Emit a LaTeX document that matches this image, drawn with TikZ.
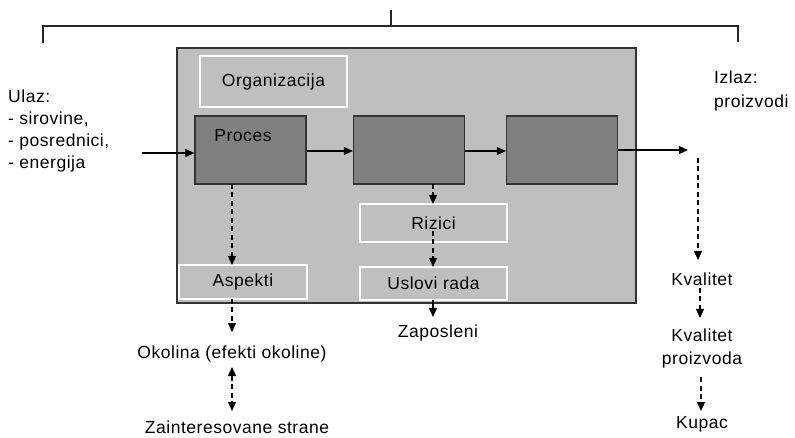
\documentclass[tikz,border=0pt]{standalone}
\usepackage{fontspec}
\setmainfont{Liberation Sans}[LetterSpace=3]
\usetikzlibrary{arrows.meta}
\definecolor{panel}{gray}{0.75}
\definecolor{procfill}{gray}{0.5}
\definecolor{edge}{gray}{0.2}
\tikzset{
  lbl/.style={font=\fontsize{17.5}{22}\selectfont, inner sep=1pt},
  procbox/.style={draw=edge, line width=1.2pt, fill=procfill, minimum width=111pt, minimum height=68pt, inner sep=0pt},
  subbox/.style={draw=white, line width=1.2pt, fill=panel, inner sep=0pt, lbl},
  arr/.style={line width=1.1pt, -{Triangle[length=9pt,width=8pt]}},
  darr/.style={arr, dash pattern=on 5pt off 3.5pt},
  bracket/.style={line width=1.6pt, draw=black!85},
}
\begin{document}
\begin{tikzpicture}[x=1pt,y=-1pt]
\useasboundingbox (0,0) rectangle (795,438);
% bracket
\coordinate (bl) at (43,43);
\coordinate (bltop) at (43,26);
\coordinate (brtop) at (738,26);
\coordinate (br) at (738,42);
\coordinate (stemtop) at (391,10);
\coordinate (stembot) at (391,26);
\draw[bracket] (bl) -- (bltop) -- (brtop) -- (br);
\draw[bracket] (stemtop) -- (stembot);
% panel
\node[draw=edge, line width=1.5pt, fill=panel, minimum width=459pt, minimum height=255pt, inner sep=0pt] (panel) at (406.5,175.5) {};
\node[subbox, minimum width=147pt, minimum height=51pt] (org) at (273.5,81.5) {Organizacija};
\node[procbox] (p1) at (250.5,150) {};
\node[procbox] (p2) at (409,150) {};
\node[procbox] (p3) at (562,150) {};
\node[lbl] (proc) at (243,136) {Proces};
\node[subbox, minimum width=128pt, minimum height=34pt] (asp) at (243,282) {Aspekti};
\node[subbox, minimum width=147pt, minimum height=38pt] (riz) at (433.5,223) {Rizici};
\node[subbox, minimum width=147pt, minimum height=33pt] (usl) at (433.5,283.5) {Uslovi rada};
% texts
\node[lbl, anchor=west, align=left] (ulaz) at (7,131) {Ulaz:\\- sirovine,\\- posrednici,\\- energija};
\node[lbl, anchor=west, align=left, font=\fontsize{17.5}{24}\selectfont] (izlaz) at (713,91) {Izlaz:\\proizvodi};
\node[lbl] (okol) at (232,354) {Okolina (efekti okoline)};
\node[lbl] (zaint) at (237,427.5) {Zainteresovane strane};
\node[lbl] (zap) at (438,333) {Zaposleni};
\node[lbl] (kval) at (702,279) {Kvalitet};
\node[lbl, align=center, font=\fontsize{17.5}{23}\selectfont] (kvp) at (702,348.5) {Kvalitet\\proizvoda};
\node[lbl] (kup) at (702,424) {Kupac};
% connector end points
\coordinate (in) at (142,153);
\coordinate (out) at (688,150);
\coordinate (a1) at (232,184);
\coordinate (a2) at (232,265);
\coordinate (a3) at (232,299);
\coordinate (a4) at (232,332);
\coordinate (a5) at (232,367);
\coordinate (a6) at (232,411);
\coordinate (b1) at (433,184);
\coordinate (b2) at (433,204);
\coordinate (b3) at (433,231);
\coordinate (b4) at (433,267);
\coordinate (b5) at (433,300);
\coordinate (b6) at (433,317);
\coordinate (r1) at (698,158);
\coordinate (r2) at (698,260);
\coordinate (r3) at (700,288);
\coordinate (r4) at (700,318);
\coordinate (r5) at (701,377);
\coordinate (r6) at (701,411);
% solid arrows
\draw[arr] (in) -- (in -| p1.west);
\draw[arr] (p1.east |- 0,151) -- (p2.west |- 0,151);
\draw[arr] (p2.east |- 0,151) -- (p3.west |- 0,151);
\draw[arr] (p3.east |- out) -- (out);
% dashed arrows
\draw[darr] (a1) -- (a2);
\draw[darr] (a3) -- (a4);
\draw[darr, {Triangle[length=9pt,width=8pt]}-{Triangle[length=9pt,width=8pt]}] (a5) -- (a6);
\draw[darr] (b1) -- (b2);
\draw[darr] (b3) -- (b4);
\draw[arr] (b5) -- (b6);
\draw[darr] (r1) -- (r2);
\draw[darr] (r3) -- (r4);
\draw[darr] (r5) -- (r6);
\end{tikzpicture}
\end{document}
